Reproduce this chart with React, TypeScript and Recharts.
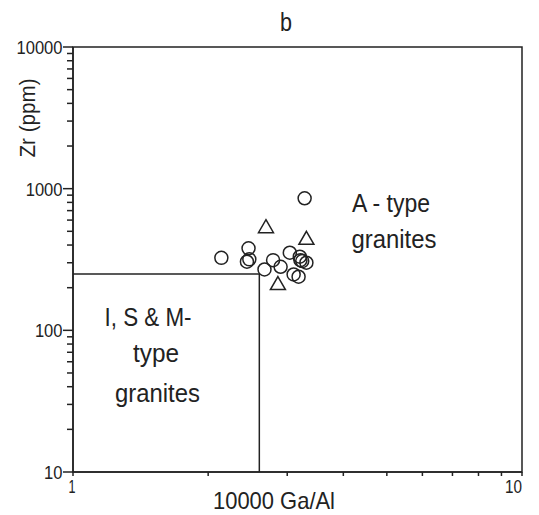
import React from 'react';
import {
  ScatterChart,
  Scatter,
  XAxis,
  YAxis,
  ReferenceLine,
  ReferenceArea,
  Customized,
} from 'recharts';

// open circles
const circleGaAl = [2.14, 2.46, 2.44, 2.47, 2.67, 2.79, 2.9, 3.04, 3.2, 3.21, 3.24, 3.31, 3.1, 3.18, 3.28];
const circleZr = [325, 379, 305, 317, 269, 313, 281, 353, 331, 313, 308, 300, 248, 239, 855];

// open triangles
const triangleGaAl = [2.69, 3.31, 2.86];
const triangleZr = [539, 446, 214];

const xTicks = [1, 2, 3, 4, 5, 6, 7, 8, 9, 10];
const yTicks = [
  10, 20, 30, 40, 50, 60, 70, 80, 90,
  100, 200, 300, 400, 500, 600, 700, 800, 900,
  1000, 2000, 3000, 4000, 5000, 6000, 7000, 8000, 9000,
  10000,
];

// I-, S- & M-type field boundary
const limitGaAl = 2.6;
const limitZr = 250;

const circles = circleGaAl.map((x, i) => ({ x, y: circleZr[i] }));
const triangles = triangleGaAl.map((x, i) => ({ x, y: triangleZr[i] }));

const FONT = "'Liberation Sans', Arial, sans-serif";
const INK = '#222';

const isMajor = (v: number) => Math.abs(Math.log10(v) - Math.round(Math.log10(v))) < 1e-9;

// narrow text: the original uses a condensed Helvetica, so squeeze Liberation Sans
const T = ({ x, y, size, len, anchor = 'middle', children, transform }: any) => (
  <text
    x={x}
    y={y}
    transform={transform}
    textAnchor={anchor}
    fontSize={size}
    fontFamily={FONT}
    fill={INK}
    textLength={len}
    lengthAdjust="spacingAndGlyphs"
  >
    {children}
  </text>
);

const YTick = (props: any) => {
  const { x, y, payload } = props;
  const major = isMajor(payload.value);
  const label = String(payload.value);
  return (
    <g>
      <line x1={x - (major ? 10 : 6)} x2={x} y1={y} y2={y} stroke={INK} strokeWidth={1.5} />
      {major && (
        <T x={x - 10.5} y={y + 7} size={18} len={label.length * 9.2} anchor="end">
          {label}
        </T>
      )}
    </g>
  );
};

const XTick = (props: any) => {
  const { x, y, payload } = props;
  const v = payload.value;
  return (
    <g>
      <line x1={x} x2={x} y1={y} y2={y + 4} stroke={INK} strokeWidth={1.5} />
      {v === 1 && (
        <T x={x - 1} y={y + 21} size={18} len={7}>1</T>
      )}
      {v === 10 && (
        <T x={x} y={y + 21} size={18} len={17} anchor="end">10</T>
      )}
    </g>
  );
};

const Ring = (props: any) => (
  <circle cx={props.cx} cy={props.cy} r={6.5} fill="none" stroke={INK} strokeWidth={1.5} />
);

const Tri = (props: any) => {
  const { cx, cy } = props;
  return (
    <path
      d={`M${cx},${cy - 7} L${cx + 7.5},${cy + 6} L${cx - 7.5},${cy + 6} Z`}
      fill="none"
      stroke={INK}
      strokeWidth={1.5}
    />
  );
};

const Texts = () => (
  <g>
    <T x={286} y={31} size={26} len={12}>b</T>
    <T x={274} y={509} size={24} len={122}>10000 Ga/Al</T>
    <T x={0} y={0} transform="translate(35,118) rotate(-90)" size={22} len={79}>Zr (ppm)</T>
    <T x={391} y={212} size={25} len={78}>A - type</T>
    <T x={394} y={248} size={25} len={85}>granites</T>
    <T x={148} y={326} size={25} len={87}>I, S &amp; M-</T>
    <T x={156} y={362} size={25} len={46}>type</T>
    <T x={157.5} y={402} size={25} len={85}>granites</T>
  </g>
);

export default function App() {
  return (
    <div style={{ position: 'absolute', left: 0, top: 0, background: '#fff' }}>
      <ScatterChart width={539} height={515} margin={{ top: 47, right: 17, bottom: 13, left: 13 }}>
        <XAxis
          type="number"
          dataKey="x"
          scale="log"
          domain={[1, 10]}
          ticks={xTicks}
          interval={0}
          allowDataOverflow
          height={30}
          tickSize={0}
          tickMargin={0}
          tickLine={false}
          tick={<XTick />}
          axisLine={{ stroke: INK, strokeWidth: 1.5 }}
        />
        <YAxis
          type="number"
          dataKey="y"
          scale="log"
          domain={[10, 10000]}
          ticks={yTicks}
          interval={0}
          allowDataOverflow
          width={60}
          tickSize={0}
          tickMargin={0}
          tickLine={false}
          tick={<YTick />}
          axisLine={{ stroke: INK, strokeWidth: 1.5 }}
        />
        <ReferenceArea x1={1} x2={10} y1={10} y2={10000} fill="none" fillOpacity={0} stroke={INK} strokeWidth={1.5} />
        <ReferenceLine
          segment={[{ x: 1, y: limitZr }, { x: limitGaAl, y: limitZr }]}
          stroke={INK}
          strokeWidth={1.5}
        />
        <ReferenceLine
          segment={[{ x: limitGaAl, y: 10 }, { x: limitGaAl, y: limitZr }]}
          stroke={INK}
          strokeWidth={1.5}
        />
        <Scatter data={circles} shape={<Ring />} isAnimationActive={false} />
        <Scatter data={triangles} shape={<Tri />} isAnimationActive={false} />
        <Customized component={<Texts />} />
      </ScatterChart>
    </div>
  );
}
